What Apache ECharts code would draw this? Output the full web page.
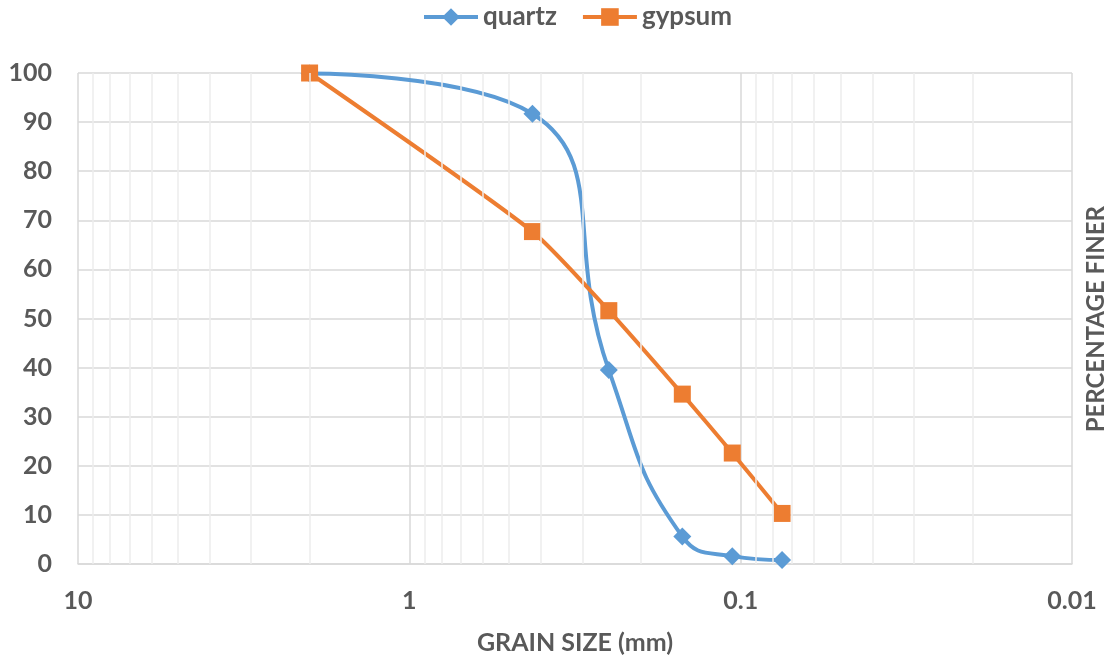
<!DOCTYPE html>
<html>
<head>
<meta charset="utf-8">
<script src="https://cdn.jsdelivr.net/npm/echarts@6/dist/echarts.min.js"></script>
<style>
html,body{margin:0;padding:0;background:#fff;}
#chart{width:1110px;height:657px;}
</style>
</head>
<body>
<div id="chart"></div>
<script>
// grain size (mm)
const grainSize = [2, 0.425, 0.25, 0.15, 0.106, 0.075];
const quartz = [99.9, 91.7, 39.5, 5.6, 1.6, 0.8];
const gypsum = [100, 67.7, 51.6, 34.6, 22.6, 10.3];
const minorTicks = [9,8,7,6,5,4,3,2, 0.9,0.8,0.7,0.6,0.5,0.4,0.3,0.2, 0.09,0.08,0.07,0.06,0.05,0.04,0.03,0.02];

const FONT = 'Lato';
const TXT = '#595959';

const chart = echarts.init(document.getElementById('chart'));
chart.setOption({
  animation: false,
  backgroundColor: '#fff',
  textStyle: { fontFamily: FONT },
  legend: {
    top: -1,
    left: 417,
    itemWidth: 54,
    itemHeight: 22,
    itemGap: 24,
    lineStyle: { width: 4 },
    textStyle: { fontFamily: FONT, fontWeight: 'bold', fontSize: 26, color: TXT },
    data: ['quartz', 'gypsum']
  },
  grid: { left: 78, right: 38, top: 73, bottom: 93, containLabel: false, outerBoundsMode: 'none' },
  xAxis: {
    type: 'log',
    logBase: 10,
    min: 0.01,
    max: 10,
    inverse: true,
    name: 'GRAIN SIZE (mm)',
    nameLocation: 'middle',
    nameGap: 66,
    nameTextStyle: { fontFamily: FONT, fontWeight: 'bold', fontSize: 25, color: TXT },
    axisLine: { show: true, lineStyle: { color: '#d9d9d9', width: 1.5 } },
    axisTick: { show: false },
    axisLabel: { fontFamily: FONT, fontWeight: 'bold', fontSize: 25, color: TXT, margin: 24 },
    splitLine: { show: true, lineStyle: { color: '#d9d9d9', width: 1.5 } },
    minorTick: { show: false },
    minorSplitLine: { show: false }
  },
  yAxis: {
    type: 'value',
    min: 0,
    max: 100,
    interval: 10,
    axisLine: { show: false },
    axisTick: { show: false },
    axisLabel: { fontFamily: FONT, fontWeight: 'bold', fontSize: 25, color: TXT, margin: 26 },
    splitLine: { show: true, lineStyle: { color: '#d9d9d9', width: 1.5 } }
  },
  graphic: [{
    type: 'text',
    left: 1084,
    top: 206,
    rotation: Math.PI / 2,
    style: { text: 'PERCENTAGE FINER', fontFamily: FONT, fontWeight: 'bold', fontSize: 24, fill: TXT }
  }],
  series: [
    {
      name: 'minor',
      type: 'line',
      data: [],
      silent: true,
      z: 0,
      markLine: {
        silent: true,
        symbol: 'none',
        label: { show: false },
        animation: false,
        lineStyle: { color: '#ededed', width: 1.5, type: 'solid' },
        data: minorTicks.map(v => ({ xAxis: v }))
      }
    },
    {
      name: 'quartz',
      type: 'line',
      smooth: 0.5,
      z: 3,
      data: grainSize.map((g, i) => [g, quartz[i]]),
      symbol: 'diamond',
      symbolSize: 18,
      itemStyle: { color: '#5b9bd5' },
      lineStyle: { color: '#5b9bd5', width: 4 }
    },
    {
      name: 'gypsum',
      type: 'line',
      smooth: 0.2,
      z: 4,
      data: grainSize.map((g, i) => [g, gypsum[i]]),
      symbol: 'rect',
      symbolSize: 17,
      itemStyle: { color: '#ed7d31' },
      lineStyle: { color: '#ed7d31', width: 4 }
    }
  ]
});
</script>
</body>
</html>
